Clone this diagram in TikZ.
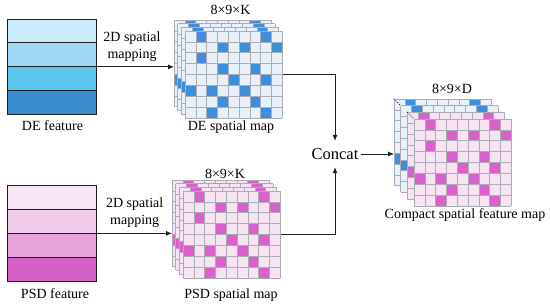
\documentclass[tikz,border=0pt]{standalone}
\usepackage{fontspec}
\setmainfont{Liberation Serif}
\usetikzlibrary{arrows.meta}
\definecolor{deA}{HTML}{CBEDFB}
\definecolor{deB}{HTML}{9DD9F4}
\definecolor{deC}{HTML}{5CC5EE}
\definecolor{deD}{HTML}{3A8DD0}
\definecolor{psdA}{HTML}{F9E7F6}
\definecolor{psdB}{HTML}{F1CCEB}
\definecolor{psdC}{HTML}{E5A2DB}
\definecolor{psdD}{HTML}{D462C6}
\definecolor{deLight}{HTML}{E8F1F9}
\definecolor{deCell}{HTML}{3F8EDB}
\definecolor{psdLight}{HTML}{F8E3F4}
\definecolor{psdCell}{HTML}{D862C9}
\definecolor{gridgray}{HTML}{ABADB5}
\definecolor{inkblack}{HTML}{1E1E1E}

% one 9x8 layer of a spatial map: origin x, origin y, cell colour, mark colour
\newcommand{\maplayer}[4]{%
  \begin{scope}[shift={(#1,#2)}]
    \fill[#3] (0,0) rectangle (97.2,86.8);
    \foreach \c/\r in {1/0,7/0,3/1,5/1,8/1,1/2,3/3,6/3,4/4,7/4,0/5,2/5,5/5,3/6,6/6,2/7,7/7}
      \fill[#4] (\c*10.8,\r*10.85) rectangle ++(10.8,10.85);
    \foreach \i in {0,...,9}
      \draw[gridline] (\i*10.8,0) -- ++(0,86.8);
    \foreach \j in {0,...,8}
      \draw[gridline] (0,\j*10.85) -- ++(97.2,0);
  \end{scope}}

\begin{document}
\begin{tikzpicture}[x=1pt, y=-1pt,
  >={Latex[length=6pt, width=5pt]},
  lbl/.style={font=\fontsize{14}{16.6}\selectfont, inner sep=0pt, anchor=base},
  gridline/.style={draw=gridgray, line width=0.6pt},
  barline/.style={draw=inkblack, line width=0.8pt},
  arr/.style={->, line width=0.8pt, inkblack},
  hold/.style={inner sep=0pt, anchor=north west},
  dotline/.style={inkblack, line width=1.3pt, line cap=round, dash pattern=on 0pt off 2.6pt},
]

% Canvas
\fill[white] (0,0) rectangle (550,307);
\useasboundingbox (0,0) rectangle (550,307);

% =============================================
% DE branch (top)
% =============================================
\foreach \col [count=\i from 0] in {deA,deB,deC,deD}
  \fill[\col] (7,19+23.75*\i) rectangle ++(89,23.75);
\foreach \i in {1,2,3}
  \draw[barline] (7,19+23.75*\i) -- ++(89,0);
\node[hold, barline, minimum width=89, minimum height=95] (deFeat) at (7,19) {};
\node[lbl] (deFeatTxt) at (52.5,130.7) {DE feature};

\foreach \k in {0,...,3}
  {\maplayer{174+3.67*\k}{20+3.67*\k}{deLight}{deCell}}
\node[hold, minimum width=108.2, minimum height=97.8] (deStack) at (174,20) {};
\node[hold, minimum width=97.2, minimum height=86.8] (deMap) at (185,31) {};

\node[lbl] (deDim) at (230.5,15) {8×9×K};
\node[lbl] (deMapTxt) at (231,130.7) {DE spatial map};
\node[lbl, align=center] (deMapping) at (132,58.3) {2D spatial\\mapping};

% =============================================
% PSD branch (bottom)
% =============================================
\foreach \col [count=\i from 0] in {psdA,psdB,psdC,psdD}
  \fill[\col] (7,185+24*\i) rectangle ++(89,24);
\foreach \i in {1,2,3}
  \draw[barline] (7,185+24*\i) -- ++(89,0);
\node[hold, barline, minimum width=89, minimum height=96] (psdFeat) at (7,185) {};
\node[lbl] (psdFeatTxt) at (55,298.3) {PSD feature};

\foreach \k in {0,...,3}
  {\maplayer{172+3.67*\k}{180+3.67*\k}{psdLight}{psdCell}}
\node[hold, minimum width=108.2, minimum height=97.8] (psdStack) at (172,180) {};
\node[hold, minimum width=97.2, minimum height=86.8] (psdMap) at (183,191) {};

\node[lbl] (psdDim) at (225,178.3) {8×9×K};
\node[lbl] (psdMapTxt) at (231,298.5) {PSD spatial map};
\node[lbl, align=center] (psdMapping) at (134.7,224.3) {2D spatial\\mapping};

% =============================================
% Concat and compact map (right)
% =============================================
\node[font=\fontsize{16.5}{19}\selectfont, inner xsep=2pt, inner ysep=7pt,
  text height=12pt, text depth=0pt] (concat) at (335,154) {Concat};

\foreach \k/\lc/\mc in {0/deLight/deCell,1/deLight/deCell,2/psdLight/psdCell,3/psdLight/psdCell}
  {\maplayer{394+6.67*\k}{99+6.67*\k}{\lc}{\mc}}
\node[hold, minimum width=117.2, minimum height=106.8] (cmpStack) at (394,99) {};

% ellipsis between stacked layers
\draw[dotline] (394,99) -- (400.67,105.67);
\draw[dotline] (407.33,112.33) -- (414,119);

\node[lbl] (cmpDim) at (452,93.3) {8×9×D};
\node[lbl] (cmpTxt) at (465,218.3) {Compact spatial feature map};

% Connectors
\draw[arr] (deFeat.east) -- (deFeat.east -| deStack.west);
\draw[arr] (psdFeat.east) -- (psdFeat.east -| psdStack.west);
\draw[arr] (deMap.east) -| (concat.north);
\draw[arr] (psdMap.east) -| (concat.south);
\draw[arr] (concat.east) -- (concat.east -| cmpStack.west);

\end{tikzpicture}
\end{document}
